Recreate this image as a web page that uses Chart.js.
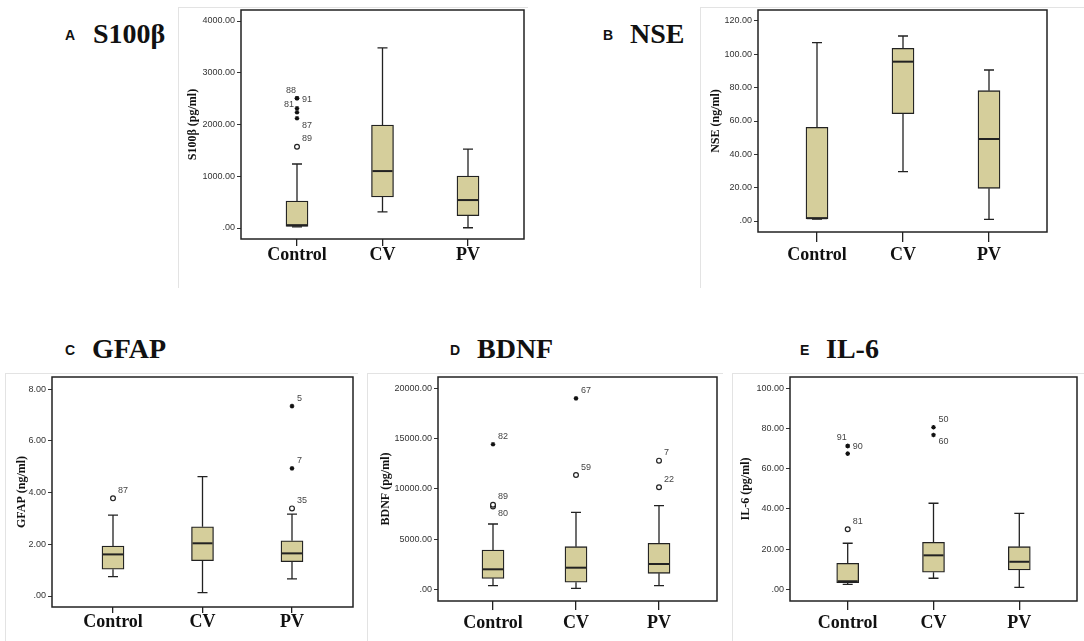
<!DOCTYPE html>
<html>
<head>
<meta charset="utf-8">
<title>S100β, NSE, GFAP, BDNF, IL-6 by group</title>
<script src="https://cdn.jsdelivr.net/npm/chart.js@4.4.1/dist/chart.umd.min.js"></script>
<style>
  html, body { margin: 0; padding: 0; background: #fff; }
  #page { position: relative; width: 1084px; height: 641px; overflow: hidden; }
  .frame { position: absolute; border-left: 1px solid #e3e3e3; border-top: 1px solid #e3e3e3; }
  canvas { position: absolute; }
  .tag { position: absolute; font: bold 14px 'Liberation Sans', Arial, sans-serif; line-height: 14px; color: #111; }
  .name { position: absolute; font: bold 28px 'Liberation Serif', 'Times New Roman', serif; line-height: 28px; color: #111; white-space: nowrap; }
</style>
</head>
<body>
<div id="page"></div>
<script>
// Groups on the x axis
const categories = ['Control', 'CV', 'PV'];

// A: S100β (pg/ml)
const s100bLow = [20, 310, 5];
const s100bQ1 = [30, 600, 238];
const s100bMedian = [55, 1100, 540];
const s100bQ3 = [522, 1990, 1005];
const s100bHigh = [1237, 3480, 1525];
const s100bOutliers = [
    [0, 1571, 'o', '89'], [0, 2120, '*', '87'], [0, 2236, '*', ''],
    [0, 2313, '*', '81'], [0, 2506, '*', '91'], [0, 2506, '*', '88']
];
const s100bTicks = [0, 1000, 2000, 3000, 4000];

// B: NSE (ng/ml)
const nseLow = [1.2, 29.6, 1.0];
const nseQ1 = [1.3, 64.4, 19.6];
const nseMedian = [1.7, 95.6, 49.2];
const nseQ3 = [56.2, 103.6, 78.2];
const nseHigh = [107, 111, 90.6];
const nseOutliers = [];
const nseTicks = [0, 20, 40, 60, 80, 100, 120];

// C: GFAP (ng/ml)
const gfapLow = [0.75, 0.13, 0.66];
const gfapQ1 = [1.04, 1.37, 1.33];
const gfapMedian = [1.61, 2.04, 1.65];
const gfapQ3 = [1.93, 2.68, 2.14];
const gfapHigh = [3.13, 4.62, 3.17];
const gfapOutliers = [
    [0, 3.78, 'o', '87'], [2, 3.39, 'o', '35'], [2, 4.94, '*', '7'], [2, 7.35, '*', '5']
];
const gfapTicks = [0, 2, 4, 6, 8];

// D: BDNF (pg/ml)
const bdnfLow = [360, 100, 360];
const bdnfQ1 = [1090, 700, 1590];
const bdnfMedian = [1990, 2150, 2520];
const bdnfQ3 = [3910, 4240, 4580];
const bdnfHigh = [6500, 7660, 8320];
const bdnfOutliers = [
    [0, 8250, 'o', '80'], [0, 8420, 'o', '89'], [0, 14430, '*', '82'],
    [1, 11370, 'o', '59'], [1, 19000, '*', '67'],
    [2, 10150, 'o', '22'], [2, 12800, 'o', '7']
];
const bdnfTicks = [0, 5000, 10000, 15000, 20000];

// E: IL-6 (pg/ml)
const il6Low = [2.5, 5.5, 1.0];
const il6Q1 = [3.3, 8.5, 9.6];
const il6Median = [4.0, 16.9, 13.7];
const il6Q3 = [12.9, 23.4, 21.2];
const il6High = [22.9, 42.8, 37.8];
const il6Outliers = [
    [0, 29.9, 'o', '81'], [0, 67.5, '*', ''], [0, 71.3, '*', '91'], [0, 71.3, '*', '90'],
    [1, 76.8, '*', '60'], [1, 80.6, '*', '50']
];
const il6Ticks = [0, 20, 40, 60, 80, 100];

const panels = [
    { key: 'A', name: 'S100β', yTitle: 'S100β (pg/ml)', low: s100bLow, q1: s100bQ1, median: s100bMedian, q3: s100bQ3, high: s100bHigh, outliers: s100bOutliers, ticks: s100bTicks },
    { key: 'B', name: 'NSE', yTitle: 'NSE (ng/ml)', low: nseLow, q1: nseQ1, median: nseMedian, q3: nseQ3, high: nseHigh, outliers: nseOutliers, ticks: nseTicks },
    { key: 'C', name: 'GFAP', yTitle: 'GFAP (ng/ml)', low: gfapLow, q1: gfapQ1, median: gfapMedian, q3: gfapQ3, high: gfapHigh, outliers: gfapOutliers, ticks: gfapTicks },
    { key: 'D', name: 'BDNF', yTitle: 'BDNF (pg/ml)', low: bdnfLow, q1: bdnfQ1, median: bdnfMedian, q3: bdnfQ3, high: bdnfHigh, outliers: bdnfOutliers, ticks: bdnfTicks },
    { key: 'E', name: 'IL-6', yTitle: 'IL-6 (pg/ml)', low: il6Low, q1: il6Q1, median: il6Median, q3: il6Q3, high: il6High, outliers: il6Outliers, ticks: il6Ticks }
];

// Page layout (pixels): canvas rect, plot box [l,t,r,b], pixel of first/last y tick,
// pixel of first/last group, y-title centre, x tick length, x label centre, heading position
const layout = {
    A: { canvas: [178, 0, 362, 290], plot: [241, 10, 524, 239], yPix: [228, 21], xPix: [297, 468], titleX: 193, xTick: 7, labelY: 255, frame: [178, 7, 349, 280], tag: [65, 28], head: [93, 20] },
    B: { canvas: [700, 0, 384, 290], plot: [758, 10, 1047, 232], yPix: [221, 21], xPix: [817, 989], titleX: 716, xTick: 10, labelY: 255.5, frame: [700, 7, 384, 280], tag: [603, 28], head: [630, 20] },
    C: { canvas: [5, 368, 355, 273], plot: [52, 377, 353, 607], yPix: [596, 389.3], xPix: [113, 292], titleX: 22, xTick: 6, labelY: 622.5, frame: [5, 373, 352, 268], tag: [65, 343], head: [92, 335] },
    D: { canvas: [367, 368, 360, 273], plot: [438, 377, 717, 601], yPix: [589.3, 388.3], xPix: [493, 659], titleX: 386, xTick: 9, labelY: 623, frame: [367, 373, 355, 268], tag: [450, 343], head: [477, 335] },
    E: { canvas: [732, 368, 352, 273], plot: [790, 377, 1077, 601], yPix: [589.3, 388.3], xPix: [847.7, 1019.3], titleX: 746, xTick: 9, labelY: 623, frame: [732, 373, 352, 268], tag: [800, 343], head: [826, 335] }
};

// Where an outlier's case number sits relative to its marker (default: upper right)
const labelPlace = {
    'A:88': 'ul', 'A:91': 'r', 'A:81': 'l', 'A:87': 'lr',
    'D:80': 'lr',
    'E:91': 'ul', 'E:90': 'r', 'E:60': 'lr'
};

const INK = '#222';
const BOX_FILL = '#d5ce9b';
const BOX_WIDTH = 22;
const CAP_WIDTH = 10;

function formatTick(v) {
    return v === 0 ? '.00' : v.toFixed(2);
}

function labelPos(place, px, py) {
    switch (place) {
        case 'r': return [px + 5, py + 1, 'left'];
        case 'lr': return [px + 5, py + 7, 'left'];
        case 'ul': return [px - 1, py - 8, 'right'];
        case 'l': return [px - 3, py - 4, 'right'];
        default: return [px + 5, py - 8, 'left'];
    }
}

function makeBoxPlugin(panel) {
    return {
        id: 'boxPlot' + panel.key,
        beforeDatasetsDraw(chart) {
            const { ctx, scales: { x, y } } = chart;
            ctx.save();
            ctx.strokeStyle = INK;
            ctx.lineWidth = 1.3;
            categories.forEach((c, i) => {
                const px = x.getPixelForValue(i);
                const segs = [[panel.q3[i], panel.high[i]], [panel.q1[i], panel.low[i]]];
                segs.forEach(([from, to]) => {
                    const y0 = y.getPixelForValue(from);
                    const y1 = y.getPixelForValue(to);
                    ctx.beginPath();
                    ctx.moveTo(px, y0);
                    ctx.lineTo(px, y1);
                    ctx.moveTo(px - CAP_WIDTH / 2, y1);
                    ctx.lineTo(px + CAP_WIDTH / 2, y1);
                    ctx.stroke();
                });
            });
            ctx.restore();
        },
        afterDatasetsDraw(chart) {
            const { ctx, scales: { x, y } } = chart;
            ctx.save();
            // medians
            ctx.strokeStyle = INK;
            ctx.lineWidth = 2;
            categories.forEach((c, i) => {
                const px = x.getPixelForValue(i);
                const py = y.getPixelForValue(panel.median[i]);
                ctx.beginPath();
                ctx.moveTo(px - BOX_WIDTH / 2 + 1, py);
                ctx.lineTo(px + BOX_WIDTH / 2 - 1, py);
                ctx.stroke();
            });
            // case numbers next to outliers
            ctx.fillStyle = '#444';
            ctx.font = "9px 'Liberation Sans', Arial, sans-serif";
            ctx.textBaseline = 'middle';
            panel.outliers.forEach(([g, v, mark, label]) => {
                if (!label) return;
                const px = x.getPixelForValue(g);
                const py = y.getPixelForValue(v);
                const [lx, ly, align] = labelPos(labelPlace[panel.key + ':' + label], px, py);
                ctx.textAlign = align;
                ctx.fillText(label, lx, ly);
            });
            ctx.restore();
        },
        afterDraw(chart) {
            const { ctx, chartArea: a } = chart;
            ctx.save();
            ctx.strokeStyle = INK;
            ctx.lineWidth = 1.5;
            ctx.strokeRect(a.left, a.top, a.right - a.left, a.bottom - a.top);
            ctx.restore();
        }
    };
}

function buildPanel(panel) {
    const L = layout[panel.key];
    const page = document.getElementById('page');
    const [cx, cy, cw, ch] = L.canvas;
    const [pl, pt, pr, pb] = L.plot;

    const frame = document.createElement('div');
    frame.className = 'frame';
    Object.assign(frame.style, { left: L.frame[0] + 'px', top: L.frame[1] + 'px', width: L.frame[2] + 'px', height: L.frame[3] + 'px' });
    page.appendChild(frame);

    const tag = document.createElement('div');
    tag.className = 'tag';
    tag.textContent = panel.key;
    Object.assign(tag.style, { left: L.tag[0] + 'px', top: L.tag[1] + 'px' });
    page.appendChild(tag);

    const head = document.createElement('div');
    head.className = 'name';
    head.textContent = panel.name;
    Object.assign(head.style, { left: L.head[0] + 'px', top: L.head[1] + 'px' });
    page.appendChild(head);

    const canvas = document.createElement('canvas');
    canvas.width = cw;
    canvas.height = ch;
    Object.assign(canvas.style, { left: cx + 'px', top: cy + 'px', width: cw + 'px', height: ch + 'px' });
    page.appendChild(canvas);

    // axis ranges so that the ticks land where the reference draws them
    const t0 = panel.ticks[0];
    const tN = panel.ticks[panel.ticks.length - 1];
    const pxPerUnit = (L.yPix[0] - L.yPix[1]) / (tN - t0);
    const yMin = t0 - (pb - L.yPix[0]) / pxPerUnit;
    const yMax = tN + (L.yPix[1] - pt) / pxPerUnit;
    const xUnit = (L.xPix[1] - L.xPix[0]) / (categories.length - 1);
    const xMin = -(L.xPix[0] - pl) / xUnit;
    const xMax = categories.length - 1 + (pr - L.xPix[1]) / xUnit;

    const titleFont = { family: "'Liberation Serif', 'Times New Roman', serif", size: 12, weight: 'bold', lineHeight: 1.2 };
    const xFontSize = 18;

    const circles = panel.outliers.filter(o => o[2] === 'o').map(o => ({ x: o[0], y: o[1] }));
    const stars = panel.outliers.filter(o => o[2] === '*').map(o => ({ x: o[0], y: o[1] }));

    new Chart(canvas, {
        type: 'bar',
        data: {
            datasets: [
                {
                    data: categories.map((c, i) => ({ x: i, y: [panel.q1[i], panel.q3[i]] })),
                    backgroundColor: BOX_FILL,
                    borderColor: INK,
                    borderWidth: 1.3,
                    borderSkipped: false,
                    barThickness: BOX_WIDTH
                },
                {
                    type: 'scatter',
                    data: circles,
                    pointStyle: 'circle',
                    pointRadius: 2.4,
                    backgroundColor: '#fff',
                    borderColor: INK,
                    borderWidth: 1.2
                },
                {
                    type: 'scatter',
                    data: stars,
                    pointStyle: 'star',
                    pointRadius: 2.3,
                    backgroundColor: '#111',
                    borderColor: '#111',
                    borderWidth: 1.2
                }
            ]
        },
        options: {
            responsive: false,
            animation: false,
            events: [],
            layout: { padding: { left: 0, top: pt - cy, right: cx + cw - pr, bottom: 0 } },
            plugins: { legend: { display: false }, tooltip: { enabled: false } },
            scales: {
                x: {
                    type: 'linear',
                    offset: false,
                    min: xMin,
                    max: xMax,
                    afterBuildTicks: s => { s.ticks = categories.map((c, i) => ({ value: i })); },
                    afterFit: s => { s.height = cy + ch - pb; },
                    ticks: {
                        callback: v => categories[v],
                        autoSkip: false,
                        maxRotation: 0,
                        color: '#111',
                        padding: L.labelY - pb - L.xTick - xFontSize / 2,
                        font: { family: "'Liberation Serif', 'Times New Roman', serif", size: xFontSize, weight: 'bold', lineHeight: 1 }
                    },
                    grid: { offset: false, drawOnChartArea: false, drawTicks: true, tickLength: L.xTick, color: INK, lineWidth: 1.3 },
                    border: { display: false }
                },
                y: {
                    type: 'linear',
                    min: yMin,
                    max: yMax,
                    afterBuildTicks: s => { s.ticks = panel.ticks.map(v => ({ value: v })); },
                    afterFit: s => { s.width = pl - cx; },
                    ticks: {
                        callback: v => formatTick(v),
                        autoSkip: false,
                        color: '#333',
                        padding: 2,
                        font: { family: "'Liberation Sans', Arial, sans-serif", size: 9 }
                    },
                    grid: { drawOnChartArea: false, drawTicks: true, tickLength: 4, color: '#333', lineWidth: 1 },
                    border: { display: false },
                    title: {
                        display: true,
                        text: panel.yTitle,
                        color: '#111',
                        font: titleFont,
                        padding: { top: L.titleX - cx - titleFont.size * titleFont.lineHeight / 2, bottom: 0 }
                    }
                }
            }
        },
        plugins: [makeBoxPlugin(panel)]
    });
}

panels.forEach(buildPanel);
</script>
</body>
</html>
